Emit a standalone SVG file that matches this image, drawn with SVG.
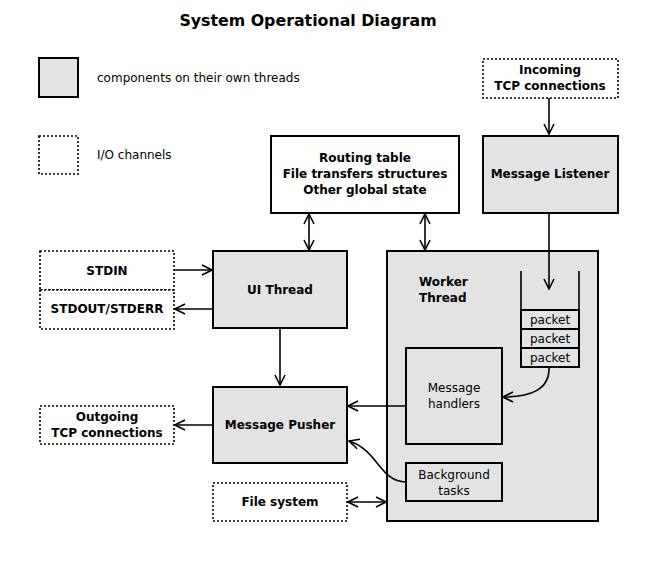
<svg xmlns="http://www.w3.org/2000/svg" width="662" height="562" viewBox="0 0 662 562">
<defs>
<style>
text{font-family:"DejaVu Sans",sans-serif;font-size:12px;fill:#000}
.b{font-weight:bold}
.t{font-size:15.8px;font-weight:bold}
.c{text-anchor:middle}
.comp{fill:#e3e3e3;stroke:#000;stroke-width:2}
.plain{fill:#fff;stroke:#000;stroke-width:2}
.io{fill:#fff;stroke:#000;stroke-width:1.6;stroke-dasharray:2,2}
.cell{fill:#e3e3e3;stroke:#000;stroke-width:2}
.ln{fill:none;stroke:#000;stroke-width:1.6}
.a{marker-end:url(#ah)}
.ab{marker-end:url(#ah);marker-start:url(#as)}
</style>
<marker id="ah" viewBox="0 0 12 12" refX="11" refY="6" markerWidth="12" markerHeight="12" markerUnits="userSpaceOnUse" orient="auto">
<path d="M1,1 L11,6 L1,11" fill="none" stroke="#000" stroke-width="1.6"/>
</marker>
<marker id="as" viewBox="0 0 12 12" refX="1" refY="6" markerWidth="12" markerHeight="12" markerUnits="userSpaceOnUse" orient="auto">
<path d="M11,1 L1,6 L11,11" fill="none" stroke="#000" stroke-width="1.6"/>
</marker>
</defs>
<rect width="662" height="562" fill="#fff"/>
<text class="t c" x="308" y="26">System Operational Diagram</text>
<g id="legend">
<rect class="comp" x="39" y="58" width="39" height="39"/>
<text x="97" y="82">components on their own threads</text>
<rect class="io" x="39" y="136" width="39" height="38"/>
<text x="97" y="159">I/O channels</text>
</g>
<g id="incoming"><rect class="io" x="483" y="59" width="135" height="39"/><text class="b c" x="550" y="74">Incoming</text><text class="b c" x="550" y="90">TCP connections</text></g>
<g id="listener"><rect class="comp" x="483" y="136" width="135" height="77"/><text class="b c" x="550" y="178">Message Listener</text></g>
<g id="global"><rect class="plain" x="271" y="136" width="188" height="77"/><text class="b c" x="365" y="162">Routing table</text><text class="b c" x="365" y="178">File transfers structures</text><text class="b c" x="365" y="194">Other global state</text></g>
<g id="stdin"><rect class="io" x="40" y="251" width="134" height="39"/><text class="b c" x="107" y="275">STDIN</text></g>
<g id="stdout"><rect class="io" x="40" y="290" width="134" height="39"/><text class="b c" x="107" y="313">STDOUT/STDERR</text></g>
<g id="ui"><rect class="comp" x="213" y="251" width="134" height="77"/><text class="b c" x="280" y="294">UI Thread</text></g>
<g id="worker"><rect class="comp" x="387" y="251" width="211" height="270"/><text class="b" x="419" y="286">Worker</text><text class="b" x="419" y="302">Thread</text></g>
<g id="queue">
<path class="ln" d="M521,271 V310 M579,271 V310" stroke-width="2"/>
<rect class="cell" x="521" y="310" width="58" height="19"/><text class="c" x="550" y="324">packet</text>
<rect class="cell" x="521" y="329" width="58" height="19"/><text class="c" x="550" y="343">packet</text>
<rect class="cell" x="521" y="348" width="58" height="19"/><text class="c" x="550" y="362">packet</text>
</g>
<g id="handlers"><rect class="comp" x="406" y="348" width="96" height="96"/><text class="c" x="454" y="392">Message</text><text class="c" x="454" y="408">handlers</text></g>
<g id="background"><rect class="comp" x="406" y="463" width="96" height="38"/><text class="c" x="454" y="479">Background</text><text class="c" x="454" y="495">tasks</text></g>
<g id="pusher"><rect class="comp" x="213" y="387" width="134" height="76"/><text class="b c" x="280" y="429">Message Pusher</text></g>
<g id="outgoing"><rect class="io" x="40" y="406" width="134" height="38"/><text class="b c" x="107" y="421">Outgoing</text><text class="b c" x="107" y="437">TCP connections</text></g>
<g id="filesystem"><rect class="io" x="213" y="483" width="134" height="38"/><text class="b c" x="280" y="506">File system</text></g>
<g id="connectors">
<path class="ln a" d="M549,98 V134"/>
<path class="ln ab" d="M309,214 V250"/>
<path class="ln ab" d="M425,214 V250"/>
<path class="ln a" d="M549,213 V289"/>
<path class="ln a" d="M174,270 H212"/>
<path class="ln a" d="M213,309 H175"/>
<path class="ln a" d="M280,328 V385"/>
<path class="ln a" d="M213,425 H175"/>
<path class="ln a" d="M406,406 H348"/>
<path class="ln a" d="M549,367 C550,390 530,397 503,397"/>
<path class="ln a" d="M406,482 C380,482 378,450 349,441"/>
<path class="ln ab" d="M348,502 H386"/>
</g>
</svg>
